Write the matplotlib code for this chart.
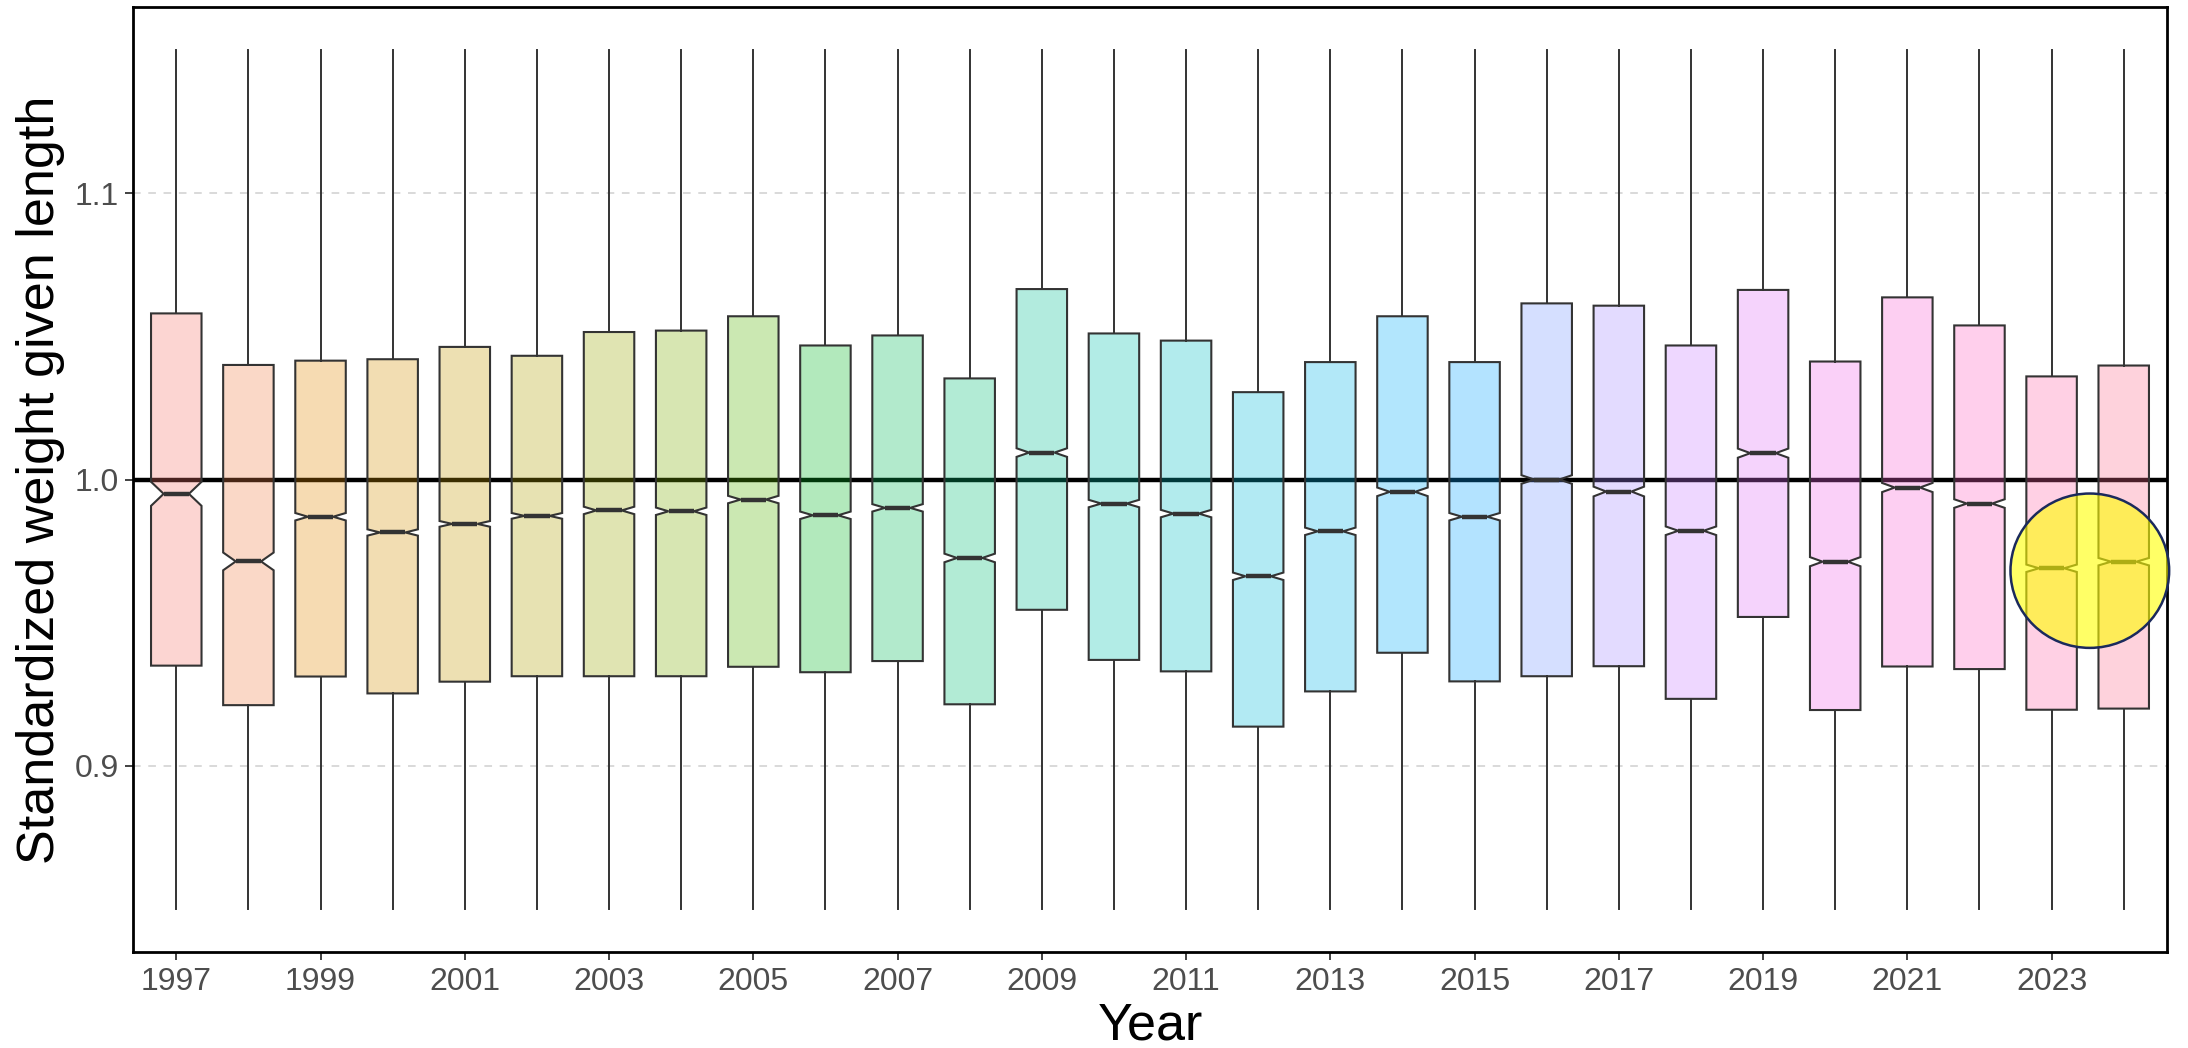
import numpy as np
import matplotlib
matplotlib.use("Agg")
import matplotlib.pyplot as plt
from matplotlib.patches import Ellipse

plt.rcParams["font.family"] = ["Liberation Sans", "DejaVu Sans"]

# Annual condition summaries (standardized weight given length)
years = [1997, 1998, 1999, 2000, 2001, 2002, 2003, 2004, 2005, 2006,
         2007, 2008, 2009, 2010, 2011, 2012, 2013, 2014, 2015, 2016,
         2017, 2018, 2019, 2020, 2021, 2022, 2023, 2024]
q3 = [1.0580, 1.0400, 1.0415, 1.0420, 1.0463, 1.0432, 1.0515, 1.0520,
      1.0570, 1.0468, 1.0503, 1.0353, 1.0665, 1.0510, 1.0485, 1.0305,
      1.0410, 1.0570, 1.0410, 1.0615, 1.0607, 1.0468, 1.0662, 1.0412,
      1.0636, 1.0538, 1.0360, 1.0398]
median = [0.9950, 0.9714, 0.9870, 0.9815, 0.9845, 0.9873, 0.9892, 0.9889,
          0.9930, 0.9875, 0.9901, 0.9726, 1.0094, 0.9916, 0.9881, 0.9662,
          0.9819, 0.9957, 0.9870, 1.0000, 0.9958, 0.9821, 1.0092, 0.9713,
          0.9972, 0.9916, 0.9690, 0.9713]
q1 = [0.9350, 0.9212, 0.9312, 0.9253, 0.9294, 0.9313, 0.9313, 0.9313,
      0.9346, 0.9327, 0.9366, 0.9215, 0.9545, 0.9370, 0.9330, 0.9137,
      0.9260, 0.9395, 0.9295, 0.9313, 0.9348, 0.9234, 0.9520, 0.9195,
      0.9347, 0.9338, 0.9196, 0.9200]
notch_half = [0.0042, 0.0031, 0.0013, 0.0011, 0.0010, 0.0010, 0.0013, 0.0013,
              0.0013, 0.0013, 0.0013, 0.0015, 0.0015, 0.0013, 0.0013, 0.0013,
              0.0013, 0.0015, 0.0013, 0.0015, 0.0017, 0.0015, 0.0016, 0.0016,
              0.0016, 0.0015, 0.0013, 0.0013]
whisker_low = [0.85] * len(years)
whisker_high = [1.15] * len(years)

reference_level = 1.0
y_ticks = [0.9, 1.0, 1.1]
y_tick_labels = ["0.9", "1.0", "1.1"]
x_tick_years = [1997, 1999, 2001, 2003, 2005, 2007, 2009, 2011, 2013,
                2015, 2017, 2019, 2021, 2023]

# highlighted recent years
highlight_years = [2023, 2024]


def hue_palette(n, c=100.0, l=65.0):
    """Evenly spaced HCL hues (polar CIE-Luv), converted to sRGB."""
    hues = np.linspace(15, 375, n + 1)[:n]
    xn, yn, zn = 95.047, 100.0, 108.883
    un = 4 * xn / (xn + 15 * yn + 3 * zn)
    vn = 9 * yn / (xn + 15 * yn + 3 * zn)
    cols = []
    for h in hues:
        hr = np.deg2rad(h)
        U, V = c * np.cos(hr), c * np.sin(hr)
        Y = yn * ((l + 16) / 116) ** 3 if l > 8 else yn * l / 903.3
        u = U / (13 * l) + un
        v = V / (13 * l) + vn
        X = 9.0 * Y * u / (4 * v)
        Z = -X / 3 - 5 * Y + 3 * Y / v
        xyz = np.array([X, Y, Z]) / 100.0
        m = np.array([[3.2404542, -1.5371385, -0.4985314],
                      [-0.9692660, 1.8760108, 0.0415560],
                      [0.0556434, -0.2040259, 1.0572252]])
        rgb = m @ xyz
        rgb = np.where(rgb <= 0.0031308, 12.92 * rgb,
                       1.055 * np.power(np.clip(rgb, 0, None), 1 / 2.4) - 0.055)
        cols.append(tuple(np.clip(rgb, 0, 1)))
    return cols


colors = hue_palette(len(years))
positions = np.arange(1, len(years) + 1)

W, H = 2188, 1048
panel_left, panel_right, panel_top, panel_bottom = 133, 2167, 7, 952

fig = plt.figure(figsize=(W / 100, H / 100), dpi=100)
ax = fig.add_axes([panel_left / W, 1 - panel_bottom / H,
                   (panel_right - panel_left) / W,
                   (panel_bottom - panel_top) / H])

stats = []
for i in range(len(years)):
    stats.append(dict(med=median[i], q1=q1[i], q3=q3[i],
                      whislo=whisker_low[i], whishi=whisker_high[i],
                      cilo=median[i] - notch_half[i],
                      cihi=median[i] + notch_half[i],
                      fliers=[]))

edge = "#333333"
bp = ax.bxp(stats, positions=positions, widths=0.7, shownotches=True,
            showcaps=False, showfliers=False, patch_artist=True,
            boxprops=dict(edgecolor=edge, linewidth=1.5),
            whiskerprops=dict(color=edge, linewidth=1.4),
            medianprops=dict(color=edge, linewidth=3.2),
            zorder=3)
for patch, col in zip(bp["boxes"], colors):
    patch.set_facecolor((*col, 0.3))

ax.axhline(reference_level, color="black", linewidth=3.2, zorder=2)

ax.set_xlim(0.4, len(years) + 0.6)
ax.set_ylim(0.835, 1.165)

ax.set_yticks(y_ticks)
ax.set_yticklabels(y_tick_labels)
ax.set_xticks([positions[years.index(y)] for y in x_tick_years])
ax.set_xticklabels([str(y) for y in x_tick_years])

ax.set_axisbelow(True)
ax.yaxis.grid(True, linestyle=(0, (5, 5)), color="#cfcfcf", linewidth=1.1)
ax.xaxis.grid(False)

ax.tick_params(axis="both", labelsize=23, labelcolor="#4d4d4d",
               color="#333333", length=6, width=1.3)
ax.tick_params(axis="x", pad=5)
ax.tick_params(axis="y", pad=4)

for s in ax.spines.values():
    s.set_color("black")
    s.set_linewidth(2.0)

panel_mid_y = 1 - (panel_top + panel_bottom) / 2 / H
fig.text(41 / W, panel_mid_y, "Standardized weight given length",
         rotation=90, ha="center", va="center", fontsize=37.5, color="black")
fig.text((panel_left + panel_right) / 2 / W, 8 / H, "Year",
         ha="center", va="baseline", fontsize=37.5, color="black")

# highlight ring over the two most recent years
hx = [positions[years.index(y)] for y in highlight_years]
hy = [median[years.index(y)] for y in highlight_years]
ring = Ellipse((np.mean(hx) + 0.03, np.mean(hy) - 0.002), width=2.2,
               height=0.0539, facecolor=(1.0, 1.0, 0.0, 0.6),
               edgecolor="#1b2a5c", linewidth=1.8, clip_on=False, zorder=6)
ax.add_patch(ring)

fig.savefig("out.png", dpi=100)
